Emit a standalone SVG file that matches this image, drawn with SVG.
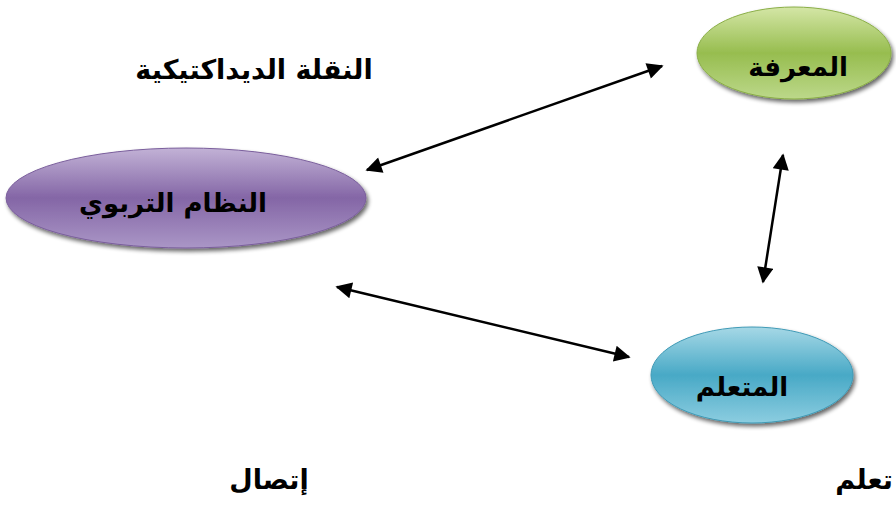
<svg xmlns="http://www.w3.org/2000/svg" width="896" height="505" viewBox="0 0 896 505">
  <defs>
    <linearGradient id="gGreen" x1="0" y1="0" x2="0" y2="1">
      <stop offset="0" stop-color="#d4e6a6"/>
      <stop offset="0.5" stop-color="#97bd4f"/>
      <stop offset="1" stop-color="#bcd88a"/>
    </linearGradient>
    <linearGradient id="gPurple" x1="0" y1="0" x2="0" y2="1">
      <stop offset="0" stop-color="#c2b2d6"/>
      <stop offset="0.5" stop-color="#8466a6"/>
      <stop offset="1" stop-color="#aa96c6"/>
    </linearGradient>
    <linearGradient id="gBlue" x1="0" y1="0" x2="0" y2="1">
      <stop offset="0" stop-color="#a6d8e6"/>
      <stop offset="0.5" stop-color="#48a9c6"/>
      <stop offset="1" stop-color="#8ccde0"/>
    </linearGradient>
    <filter id="shadow" x="-10%" y="-20%" width="125%" height="150%">
      <feGaussianBlur in="SourceAlpha" stdDeviation="2"/>
      <feOffset dx="2" dy="3" result="b"/>
      <feComponentTransfer><feFuncA type="linear" slope="0.6"/></feComponentTransfer>
      <feMerge><feMergeNode/><feMergeNode in="SourceGraphic"/></feMerge>
    </filter>
    <marker id="arrow" viewBox="0 0 10 10" refX="9" refY="5" markerWidth="7.5" markerHeight="6.5" markerUnits="strokeWidth" orient="auto-start-reverse">
      <path d="M0,0 L10,5 L0,10 Z" fill="#000"/>
    </marker>
  </defs>
  <style>
    .node-label { font-family: "DejaVu Sans", "Noto Sans", sans-serif; font-weight: bold; font-size: 26px; fill: #000; text-anchor: middle; direction: rtl; }
    .free-label { font-family: "DejaVu Sans", "Noto Sans", sans-serif; font-weight: bold; font-size: 27px; fill: #000; text-anchor: middle; direction: rtl; }
    .conn { stroke: #000; stroke-width: 2.5; fill: none; marker-start: url(#arrow); marker-end: url(#arrow); }
  </style>

  <rect width="896" height="505" fill="#fff"/>

  <g id="node-knowledge">
    <ellipse cx="794" cy="53" rx="97" ry="46" fill="url(#gGreen)" stroke="#8aae46" stroke-width="1" filter="url(#shadow)"/>
    <text class="node-label" x="798" y="76">المعرفة</text>
  </g>

  <g id="node-system">
    <ellipse cx="186" cy="198" rx="180" ry="50" fill="url(#gPurple)" stroke="#7a5e9c" stroke-width="1" filter="url(#shadow)"/>
    <text class="node-label" x="173" y="212">النظام التربوي</text>
  </g>

  <g id="node-learner">
    <ellipse cx="752" cy="375" rx="101" ry="48" fill="url(#gBlue)" stroke="#3f9ab6" stroke-width="1" filter="url(#shadow)"/>
    <text class="node-label" x="742" y="396">المتعلم</text>
  </g>

  <g id="connectors">
    <line class="conn" x1="367" y1="170" x2="662" y2="66"/>
    <line class="conn" x1="783" y1="155" x2="763" y2="282"/>
    <line class="conn" x1="337" y1="287" x2="629" y2="357"/>
  </g>

  <g id="labels">
    <text class="free-label" x="254" y="79">النقلة الديداكتيكية</text>
    <text class="free-label" x="269" y="489">إتصال</text>
    <text class="free-label" x="864" y="489">تعلم</text>
  </g>
</svg>
